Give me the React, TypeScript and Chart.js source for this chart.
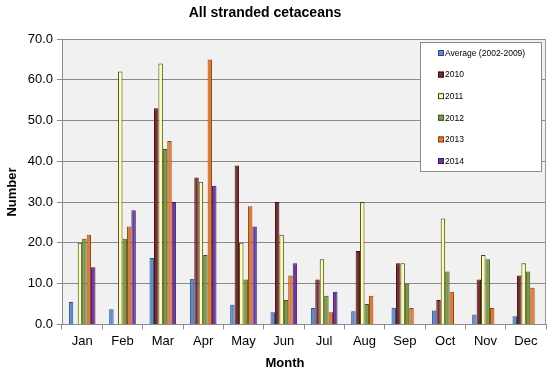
import React, { useEffect, useRef } from "react";
import { Chart, registerables } from "chart.js";

Chart.register(...registerables);

const months = ["Jan", "Feb", "Mar", "Apr", "May", "Jun", "Jul", "Aug", "Sep", "Oct", "Nov", "Dec"];
const seriesNames = ["Average (2002-2009)", "2010", "2011", "2012", "2013", "2014"];
const average = [5.5, 3.7, 16.3, 11.2, 4.8, 3.0, 4.0, 3.2, 4.1, 3.4, 2.4, 2.0];
const y2010 = [0, 0, 53, 36, 39, 30, 11, 18, 15, 6, 11, 12];
const y2011 = [20, 62, 64, 35, 20, 22, 16, 30, 15, 26, 17, 15];
const y2012 = [21, 21, 43, 17, 11, 6, 7, 5, 10, 13, 16, 13];
const y2013 = [22, 24, 45, 65, 29, 12, 3, 7, 4, 8, 4, 9];
const y2014 = [14, 28, 30, 34, 24, 15, 8, null, null, null, null, null];
const yTicks = [0, 10, 20, 30, 40, 50, 60, 70];
const chartTitle = "All stranded cetaceans";
const xTitle = "Month";
const yTitle = "Number";

const fills = ["#5B8BD0", "#7A2B2B", "#FFFFA8", "#7A9A3E", "#E8782A", "#6E36A0"];
const borders = ["#2A4A80", "#3A1010", "#404020", "#3E5420", "#8A4010", "#3A1A60"];

const FONT = "'Liberation Sans', Arial, sans-serif";

const plotBg = {
  id: "plotBg",
  beforeDraw(chart: any) {
    const { ctx, chartArea: a } = chart;
    ctx.save();
    ctx.fillStyle = "#F1F1F1";
    ctx.fillRect(a.left, a.top, a.right - a.left, a.bottom - a.top);
    ctx.restore();
  },
  afterDraw(chart: any) {
    const { ctx, chartArea: a } = chart;
    ctx.save();
    ctx.strokeStyle = "#9A9A9A";
    ctx.lineWidth = 1;
    ctx.beginPath();
    ctx.moveTo(a.right - 0.5, a.top);
    ctx.lineTo(a.right - 0.5, a.bottom);
    ctx.stroke();
    // titles
    ctx.fillStyle = "#000";
    ctx.textAlign = "center";
    ctx.textBaseline = "middle";
    ctx.font = "bold 14px " + FONT;
    ctx.fillText(chartTitle, 265, 13);
    ctx.font = "bold 13px " + FONT;
    ctx.fillText(xTitle, 285, 363);
    ctx.save();
    ctx.translate(12, 192);
    ctx.rotate(-Math.PI / 2);
    ctx.fillText(yTitle, 0, 0);
    ctx.restore();
    // legend
    ctx.textAlign = "left";
    const bx = 420.5, by = 42.5, bw = 121, bh = 129;
    ctx.fillStyle = "#FFFFFF";
    ctx.fillRect(bx, by, bw, bh);
    ctx.strokeStyle = "#8A8A8A";
    ctx.strokeRect(bx, by, bw, bh);
    ctx.font = "8.5px " + FONT;
    seriesNames.forEach((name, i) => {
      const cy = 53 + i * 21.6;
      ctx.fillStyle = fills[i];
      ctx.fillRect(438, cy - 3, 6, 6);
      ctx.strokeStyle = borders[i];
      ctx.strokeRect(438.5, cy - 2.5, 5, 5);
      ctx.fillStyle = "#000";
      ctx.fillText(name, 445, cy + 0.5);
    });
    ctx.restore();
  },
};

export default function App() {
  const ref = useRef<HTMLCanvasElement>(null);
  useEffect(() => {
    document.body.style.margin = "0";
    const series = [average, y2010, y2011, y2012, y2013, y2014];
    const chart = new Chart(ref.current!, {
      type: "bar",
      data: {
        labels: months,
        datasets: series.map((d, i) => ({
          label: seriesNames[i],
          data: d,
          backgroundColor: fills[i],
          borderColor: borders[i],
          borderWidth: 1,
          barPercentage: 1,
          categoryPercentage: 0.66,
        })),
      },
      options: {
        animation: false,
        responsive: false,
        layout: { padding: { left: 24, right: 3, top: 39, bottom: 20 } },
        plugins: {
          legend: { display: false },
          tooltip: { enabled: false },
          title: { display: false },
        },
        scales: {
          x: {
            offset: true,
            grid: { display: true, offset: true, drawOnChartArea: false, color: "#8A8A8A", tickLength: 5 },
            border: { color: "#8A8A8A" },
            ticks: { color: "#000", font: { family: FONT, size: 13 }, padding: 4, maxRotation: 0 },
          },
          y: {
            min: 0,
            max: 70,
            afterBuildTicks(axis: any) {
              axis.ticks = yTicks.map((v) => ({ value: v }));
            },
            afterFit(axis: any) {
              axis.width = 38;
            },
            grid: { color: "#8A8A8A", tickLength: 5 },
            border: { color: "#8A8A8A" },
            ticks: {
              color: "#000",
              font: { family: FONT, size: 13 },
              padding: 4,
              callback: (v: any) => Number(v).toFixed(1),
            },
          },
        },
      },
      plugins: [plotBg],
    });
    return () => chart.destroy();
  }, []);
  return <canvas ref={ref} width={549} height={373} style={{ display: "block" }} />;
}
